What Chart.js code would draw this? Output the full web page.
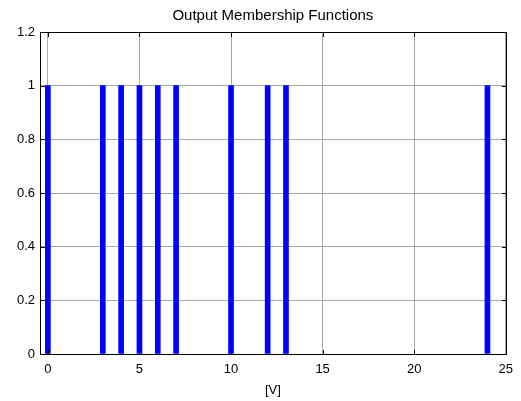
<!DOCTYPE html>
<html>
<head>
<meta charset="utf-8">
<script src="https://cdn.jsdelivr.net/npm/chart.js@4"></script>
<style>
  html, body { margin: 0; padding: 0; background: #fff; }
  canvas { display: block; }
</style>
</head>
<body>
<canvas id="chart" width="521" height="401"></canvas>
<script>
// output membership function positions (singletons), all at height 1
const centers = [0, 3, 4, 5, 6, 7, 10, 12, 13, 24];
const heights = [1, 1, 1, 1, 1, 1, 1, 1, 1, 1];
const xTicks = [0, 5, 10, 15, 20, 25];
const yTicks = [0, 0.2, 0.4, 0.6, 0.8, 1, 1.2];
const titleText = 'Output Membership Functions';
const xLabel = '[V]';

const FONT = 'Liberation Sans, Arial, sans-serif';

// box, inward ticks, title and axis label like matlab (drawn with fillRect)
const matlabFrame = {
  id: 'matlabFrame',
  afterDraw(chart) {
    const ctx = chart.ctx;
    const a = chart.chartArea;
    const xs = chart.scales.x, ys = chart.scales.y;
    const L = Math.round(a.left), R = Math.round(a.right);
    const T = Math.round(a.top), B = Math.round(a.bottom);
    ctx.save();
    ctx.globalAlpha = 1;
    ctx.globalCompositeOperation = 'source-over';
    ctx.fillStyle = '#000000';
    ctx.fillRect(L, T, R - L + 1, 1);
    ctx.fillRect(L, B, R - L + 1, 1);
    ctx.fillRect(L, T, 1, B - T + 1);
    ctx.fillRect(R, T, 1, B - T + 1);
    xTicks.forEach(v => {
      const px = Math.round(xs.getPixelForValue(v));
      ctx.fillRect(px, B - 4, 1, 4);
      ctx.fillRect(px, T + 1, 1, 4);
    });
    yTicks.forEach(v => {
      const py = Math.round(ys.getPixelForValue(v));
      ctx.fillRect(L + 1, py, 4, 1);
      ctx.fillRect(R - 4, py, 4, 1);
    });

    ctx.textAlign = 'center';
    ctx.textBaseline = 'middle';
    ctx.font = '15px ' + FONT;
    ctx.fillText(titleText, (a.left + a.right) / 2, 16);
    ctx.font = '13px ' + FONT;
    ctx.fillText(xLabel, (a.left + a.right) / 2, 390);
    ctx.restore();
  }
};

new Chart(document.getElementById('chart'), {
  type: 'bar',
  data: {
    datasets: [{
      data: centers.map((c, i) => ({ x: c, y: heights[i] })),
      backgroundColor: '#0000ff',
      borderWidth: 0,
      barThickness: 5,
    }],
  },
  options: {
    responsive: false,
    animation: false,
    layout: { padding: { left: 0, right: 13, top: 32, bottom: 0 } },
    plugins: {
      legend: { display: false },
      tooltip: { enabled: false },
      title: { display: false },
    },
    scales: {
      x: {
        type: 'linear',
        offset: false,
        min: -0.43,
        max: 25,
        afterBuildTicks: s => { s.ticks = xTicks.map(v => ({ value: v })); },
        afterFit: s => { s.height = 47; },
        grid: { color: '#a8a8a8', lineWidth: 1, drawTicks: false, offset: false },
        border: { display: false },
        ticks: {
          color: '#000',
          font: { family: FONT, size: 13 },
          padding: 8,
          maxRotation: 0,
          autoSkip: false,
          callback: v => String(v),
        },
      },
      y: {
        type: 'linear',
        min: 0,
        max: 1.2,
        afterBuildTicks: s => { s.ticks = yTicks.map(v => ({ value: v })); },
        afterFit: s => { s.width = 40; },
        grid: { color: '#a8a8a8', lineWidth: 1, drawTicks: false },
        border: { display: false },
        ticks: {
          color: '#000',
          font: { family: FONT, size: 13 },
          padding: 5,
          autoSkip: false,
          callback: v => String(Math.round(v * 10) / 10),
        },
      },
    },
  },
  plugins: [matlabFrame],
});
</script>
</body>
</html>
